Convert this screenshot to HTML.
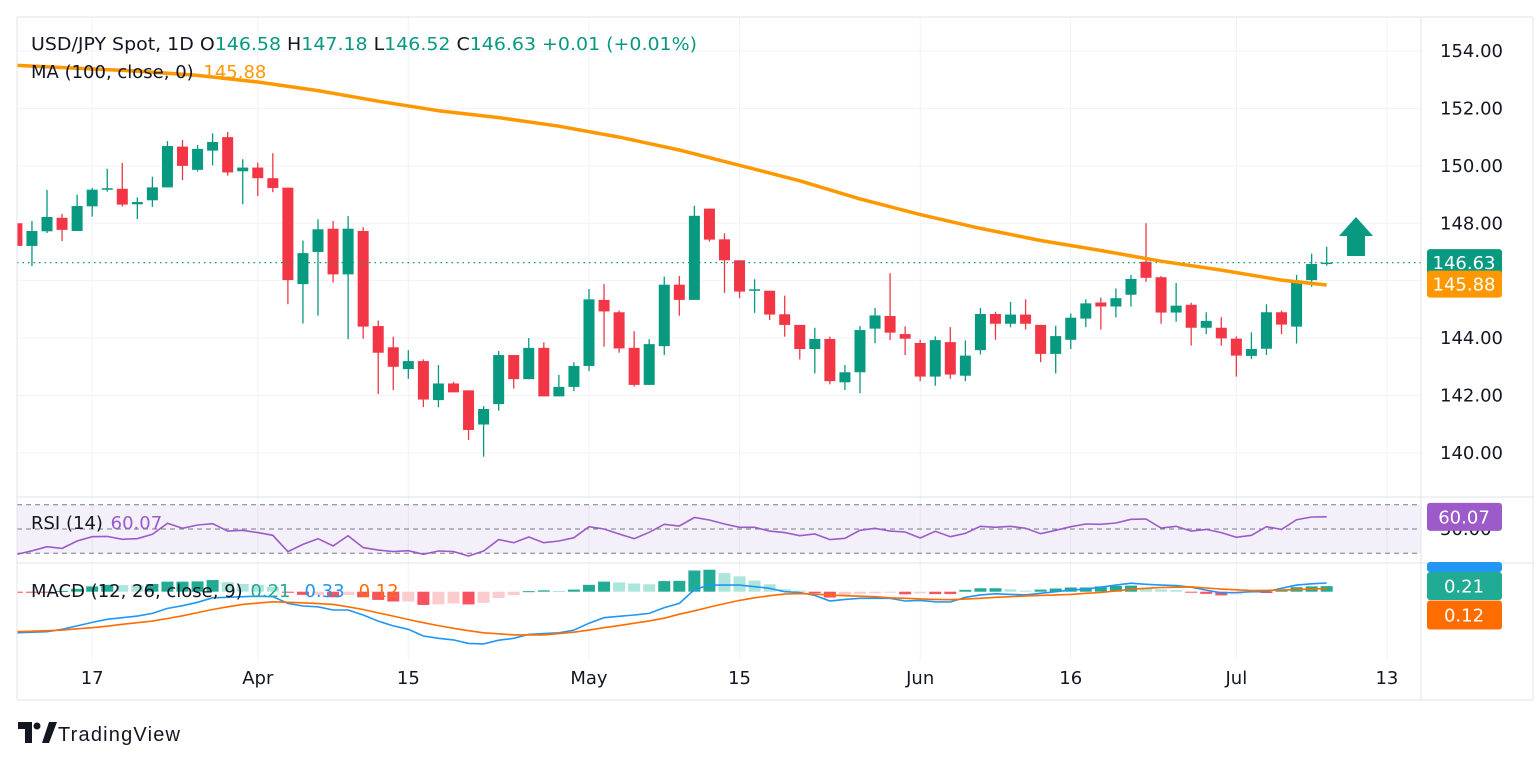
<!DOCTYPE html>
<html><head><meta charset="utf-8"><style>
html,body{margin:0;padding:0;background:#fff;}
svg{display:block;font-family:"DejaVu Sans","Liberation Sans",sans-serif;}
</style></head><body>
<svg id="chart" width="1536" height="763" viewBox="0 0 1536 763" xmlns="http://www.w3.org/2000/svg">
<defs><clipPath id="plotClip"><rect x="17" y="17" width="1404" height="690"/></clipPath></defs>
<g id="grid"></g>
<g id="candles" clip-path="url(#plotClip)"></g>
<g id="ma" clip-path="url(#plotClip)"></g>
<g id="rsi" clip-path="url(#plotClip)"></g>
<g id="macd" clip-path="url(#plotClip)"></g>
<g id="axes"></g>
<g id="labels">
  <text x="31" y="50" font-size="18" fill="#131722" textLength="666" lengthAdjust="spacingAndGlyphs">USD/JPY Spot, 1D  O<tspan fill="#089981">146.58</tspan>  H<tspan fill="#089981">147.18</tspan>  L<tspan fill="#089981">146.52</tspan>  C<tspan fill="#089981">146.63</tspan>  <tspan fill="#089981">+0.01 (+0.01%)</tspan></text>
  <text x="31" y="78" font-size="18" fill="#131722">MA (100, close, 0) <tspan fill="#ff9800" dx="4">145.88</tspan></text>
  <text x="31" y="529" font-size="18" fill="#131722">RSI (14) <tspan fill="#9c5bc9" dx="2">60.07</tspan></text>
  <text x="31" y="597" font-size="18" fill="#131722">MACD (12, 26, close, 9) <tspan fill="#22ab94" dx="2">0.21</tspan><tspan fill="#2196f3" dx="14">0.33</tspan><tspan fill="#ff6d00" dx="14">0.12</tspan></text>
  <g>
    <path d="M18 722 h14 v21 h-7 v-14 h-7 z" fill="#131722"/>
    <circle cx="37" cy="726" r="3.5" fill="#131722"/>
    <path d="M42 743 l7 -21 h8 l-8 21 z" fill="#131722"/>
    <text x="58" y="741" font-size="20" fill="#131722" font-family="Liberation Sans, sans-serif" textLength="122">TradingView</text>
  </g>
  <g>
    <polygon points="1356,217 1373,236 1365,236 1365,256 1347,256 1347,236 1339,236" fill="#089981"/>
  </g>
</g>
</svg>
<script>
const openP=[148.0,147.21,147.72,148.19,147.73,148.59,149.18,149.2,148.66,148.8,149.25,150.67,149.86,150.53,151.0,149.81,149.94,149.57,149.24,145.88,147.0,147.81,146.22,147.73,144.42,143.68,142.92,143.2,141.84,142.42,142.18,140.99,141.7,143.41,142.57,143.66,141.97,142.3,143.03,145.33,144.9,143.66,142.37,143.72,145.86,145.33,148.51,147.44,146.71,145.67,145.65,144.83,144.46,143.62,143.97,142.46,142.81,144.33,144.77,144.14,143.83,142.66,143.86,142.69,143.58,144.84,144.5,144.82,144.46,143.45,143.94,144.68,145.24,145.1,145.51,146.66,146.12,144.89,145.16,144.36,144.36,143.98,143.38,143.63,144.9,144.4,146.02,146.58];
const highP=[148.0,148.08,149.16,148.33,149.0,149.23,149.9,150.1,148.9,149.62,150.86,150.9,150.73,151.13,151.18,150.23,150.11,150.44,149.24,147.4,148.14,148.08,148.25,147.86,144.61,144.05,143.58,143.26,143.06,142.48,142.18,141.63,143.55,143.41,144.0,143.85,142.72,143.16,145.71,145.88,144.96,144.24,143.96,146.14,146.16,148.61,148.51,147.65,146.71,146.05,145.65,145.48,144.46,144.36,144.05,143.06,144.42,145.05,146.26,144.41,143.94,144.06,144.38,143.92,145.05,144.92,145.26,145.35,144.46,144.43,144.86,145.35,145.41,145.73,146.2,148.0,146.16,145.92,145.23,144.9,144.73,144.06,144.2,145.18,144.96,146.2,146.94,147.18];
const lowP=[147.2,146.51,147.66,147.38,147.73,148.23,149.1,148.58,148.15,148.57,149.25,149.5,149.8,150.02,149.66,148.66,148.95,149.08,145.18,144.51,144.78,145.93,143.97,143.98,142.05,142.19,142.58,141.6,141.59,142.11,140.45,139.87,141.47,142.24,142.57,141.97,141.97,142.15,142.85,143.7,143.49,142.31,142.37,143.41,144.78,145.33,147.36,145.58,145.39,144.88,144.63,144.05,143.26,142.77,142.39,142.19,142.08,143.82,143.93,143.41,142.5,142.34,142.58,142.5,143.43,143.94,144.38,144.3,143.16,142.77,143.62,144.38,144.3,144.72,145.1,145.96,144.5,144.57,143.74,144.14,143.74,142.66,143.27,143.41,144.14,143.81,145.79,146.52];
const closeP=[147.21,147.73,148.22,147.77,148.6,149.17,149.22,148.65,148.74,149.25,150.69,150.0,150.59,150.83,149.77,149.94,149.57,149.23,146.02,146.96,147.79,146.22,147.81,144.4,143.49,143.0,143.2,141.86,142.42,142.11,140.8,141.53,143.41,142.57,143.66,141.97,142.3,143.03,145.35,144.93,143.64,142.37,143.79,145.86,145.33,148.26,147.43,146.71,145.62,145.7,144.82,144.46,143.62,143.97,142.5,142.81,144.28,144.79,144.19,143.98,142.66,143.93,142.73,143.39,144.84,144.5,144.82,144.5,143.45,144.07,144.71,145.21,145.1,145.39,146.06,146.1,144.89,145.13,144.36,144.6,143.99,143.39,143.62,144.9,144.47,146.01,146.58,146.63];
const maIdx=[0,4,8,12,16,20,24,28,32,36,40,44,48,52,56,60,64,68,72,76,80,84,87];
const maVals=[153.5,153.4,153.3,153.15,152.92,152.62,152.25,151.92,151.68,151.38,151.0,150.55,150.02,149.48,148.85,148.3,147.82,147.4,147.05,146.68,146.37,146.02,145.85];
const rsiVals=[29.1,32.0,35.4,34.0,40.1,43.6,43.9,41.5,42.0,45.6,54.7,50.6,53.3,54.4,48.3,48.9,47.0,44.8,31.3,37.3,42.0,36.0,44.5,34.6,32.6,31.3,32.1,29.1,31.8,31.3,27.7,31.8,41.2,38.7,43.4,38.7,40.1,42.8,51.9,50.0,45.9,42.0,47.3,53.9,52.5,59.5,57.4,54.1,51.4,51.4,48.3,47.0,44.5,45.9,41.2,42.3,48.9,50.6,48.3,47.5,42.6,48.1,43.6,46.4,52.2,51.4,52.2,50.6,46.1,48.9,51.9,54.1,53.9,55.0,58.0,58.3,50.8,52.2,48.3,49.7,47.0,43.1,44.8,51.9,49.7,57.7,59.9,60.07];
const macdVals=[-1.55,-1.53,-1.51,-1.42,-1.29,-1.16,-1.04,-0.98,-0.92,-0.82,-0.63,-0.53,-0.40,-0.23,-0.21,-0.19,-0.17,-0.19,-0.44,-0.54,-0.57,-0.69,-0.69,-0.88,-1.11,-1.29,-1.42,-1.67,-1.76,-1.82,-1.95,-1.97,-1.83,-1.76,-1.61,-1.58,-1.55,-1.45,-1.19,-0.98,-0.93,-0.88,-0.82,-0.60,-0.44,0.08,0.25,0.25,0.25,0.19,0.13,0,-0.03,-0.14,-0.35,-0.29,-0.25,-0.25,-0.25,-0.35,-0.33,-0.38,-0.39,-0.21,-0.12,-0.08,-0.10,-0.12,-0.06,0,0.06,0.10,0.17,0.25,0.32,0.28,0.25,0.23,0.17,0.06,-0.04,-0.03,0,0,0.13,0.25,0.30,0.33];
const signalVals=[-1.51,-1.49,-1.47,-1.45,-1.40,-1.36,-1.30,-1.23,-1.17,-1.11,-1.01,-0.91,-0.79,-0.67,-0.57,-0.48,-0.43,-0.38,-0.40,-0.42,-0.45,-0.48,-0.57,-0.67,-0.80,-0.92,-1.05,-1.17,-1.28,-1.38,-1.47,-1.55,-1.59,-1.63,-1.63,-1.63,-1.58,-1.53,-1.45,-1.36,-1.28,-1.19,-1.10,-1.00,-0.85,-0.72,-0.58,-0.45,-0.33,-0.23,-0.15,-0.09,-0.07,-0.09,-0.13,-0.15,-0.17,-0.19,-0.23,-0.25,-0.27,-0.29,-0.30,-0.28,-0.25,-0.21,-0.19,-0.16,-0.14,-0.12,-0.10,-0.06,-0.03,0.03,0.09,0.13,0.16,0.17,0.18,0.14,0.10,0.07,0.04,0.05,0.06,0.08,0.10,0.12];
const priceTicks=[154,152,150,148,146,144,142,140];
const timeTickIdx=[5,16,26,38,48,60,70,81,91];
const timeTickLabels=["17","Apr","15","May","15","Jun","16","Jul","13"];
const lastPrice=146.63, lastMA=145.88, lastRSI=60.07, lastMACD=0.21, lastSignal=0.12;

const NS="http://www.w3.org/2000/svg";
function mk(tag,attrs,parent){const e=document.createElementNS(NS,tag);for(const k in attrs)e.setAttribute(k,attrs[k]);parent.appendChild(e);return e;}
const xOf=i=>16.9+i*15.055;
const yP=p=>51+(154-p)*28.71;
const yR=r=>529-(r-50)*1.21;
const yM=v=>591.7-v*26.5;
const G=document.getElementById('grid'),C=document.getElementById('candles'),MA=document.getElementById('ma'),R=document.getElementById('rsi'),M=document.getElementById('macd'),A=document.getElementById('axes');

priceTicks.forEach(p=>{const l=mk('line',{x1:17,x2:1421,y1:yP(p),y2:yP(p),stroke:'#f0f3fa','stroke-width':1},G);

});
timeTickIdx.forEach(i=>{const l=mk('line',{x1:xOf(i),x2:xOf(i),y1:17,y2:660,stroke:'#f0f3fa','stroke-width':1},G);

});

openP.forEach((o,i)=>{const c=closeP[i],up=c>=o,col=up?'#089981':'#f23645',x=xOf(i);
const g=mk('g',{},C);


mk('line',{x1:x,x2:x,y1:yP(highP[i]),y2:yP(lowP[i]),stroke:col,'stroke-width':1.3},g);
const t=yP(Math.max(o,c)),b=yP(Math.min(o,c));
mk('rect',{x:x-5.5,y:t,width:11,height:Math.max(1.5,b-t),fill:col},g);});

const pl=mk('line',{x1:17,x2:1421,y1:yP(lastPrice),y2:yP(lastPrice),stroke:'#089981','stroke-width':1.2,'stroke-dasharray':'1.5 4'},C);



const maPath=mk('path',{d:maIdx.map((k,j)=>(j?'L':'M')+xOf(k).toFixed(1)+' '+yP(maVals[j]).toFixed(1)).join(' '),fill:'none',stroke:'#ff9800','stroke-width':3.5,'stroke-linejoin':'round'},MA);



const band=mk('rect',{x:17,y:yR(70),width:1404,height:yR(30)-yR(70),fill:'#7e57c2','fill-opacity':0.09},R);


[70,50,30].forEach(v=>{const l=mk('line',{x1:17,x2:1421,y1:yR(v),y2:yR(v),stroke:'#787b86','stroke-width':1,'stroke-dasharray':'5 4'},R);

});
const rl=mk('path',{d:rsiVals.map((v,i)=>(i?'L':'M')+xOf(i).toFixed(1)+' '+yR(v).toFixed(1)).join(' '),fill:'none',stroke:'#9c5bc9','stroke-width':1.6},R);



let prevH=null;
macdVals.forEach((v,i)=>{const h=v-signalVals[i];let col;
if(h>=0)col=(prevH===null||h>=prevH)?'#22ab94':'#ace5dc';else col=(prevH===null||h<=prevH)?'#f7525f':'#fccbcd';
prevH=h;const y0=yM(0),y1=yM(h);
const r=mk('rect',{x:xOf(i)-6,y:Math.min(y0,y1),width:12,height:Math.max(1,Math.abs(y1-y0)),fill:col},M);

});
const ml=mk('path',{d:macdVals.map((v,i)=>(i?'L':'M')+xOf(i).toFixed(1)+' '+yM(v).toFixed(1)).join(' '),fill:'none',stroke:'#2196f3','stroke-width':1.6},M);


const sl=mk('path',{d:signalVals.map((v,i)=>(i?'L':'M')+xOf(i).toFixed(1)+' '+yM(v).toFixed(1)).join(' '),fill:'none',stroke:'#ff6d00','stroke-width':1.6},M);



[[17,17,1533,17],[17,497,1533,497],[17,563,1533,563],[17,700,1533,700],[1421,17,1421,700],[1533,17,1533,700],[17,17,17,700]].forEach(a=>{
const l=mk('line',{x1:a[0],y1:a[1],x2:a[2],y2:a[3],stroke:'#e0e3eb','stroke-width':1},A);

});
priceTicks.forEach(p=>{const t=mk('text',{x:1440,y:yP(p)+6,'font-size':18,fill:'#131722'},A);t.textContent=p.toFixed(2);

});
{const t=mk('text',{x:1440,y:yR(50)+6,'font-size':18,fill:'#131722'},A);t.textContent='50.00';

}
timeTickIdx.forEach((k,j)=>{const t=mk('text',{x:xOf(k),y:684,'font-size':18,fill:'#131722','text-anchor':'middle'},A);t.textContent=timeTickLabels[j];

});
function box(yc,h,col,txt,name){const g=mk('g',{},A);


mk('rect',{x:1427,y:yc-h/2,width:75,height:h,rx:3,fill:col},g);
if(txt){const t=mk('text',{x:1464,y:yc+6.5,'font-size':18,fill:'#fff','text-anchor':'middle'},g);t.textContent=txt;}}
box(yP(lastPrice),27,'#089981',lastPrice.toFixed(2),'last-price-label');
box(yP(lastMA),27,'#ff9800',lastMA.toFixed(2),'ma-value-label');
box(yR(lastRSI),28,'#9c5bc9',lastRSI.toFixed(2),'rsi-value-label');
box(567,10,'#2196f3','','macd-value-label');
box(586,28,'#22ab94',lastMACD.toFixed(2),'histogram-value-label');
box(615,29,'#ff6d00',lastSignal.toFixed(2),'signal-value-label');
</script>
</body></html>
